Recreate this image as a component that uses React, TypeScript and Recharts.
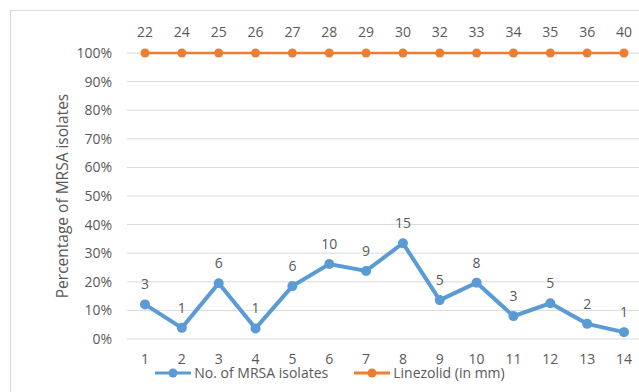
import { LineChart, Line, XAxis, YAxis, CartesianGrid, LabelList, Legend } from "recharts";

// bottom axis: isolate group number; top axis: linezolid zone size in mm
const categories = ["1", "2", "3", "4", "5", "6", "7", "8", "9", "10", "11", "12", "13", "14"];
const zoneMm = ["22", "24", "25", "26", "27", "28", "29", "30", "32", "33", "34", "35", "36", "40"];
const isolateCounts = [3, 1, 6, 1, 6, 10, 9, 15, 5, 8, 3, 5, 2, 1];
const isolatePct = [0.121, 0.039, 0.195, 0.037, 0.185, 0.262, 0.238, 0.335, 0.136, 0.197, 0.08, 0.125, 0.053, 0.024];
const linezolidPct = [1, 1, 1, 1, 1, 1, 1, 1, 1, 1, 1, 1, 1, 1];
const yTicks = [0, 0.1, 0.2, 0.3, 0.4, 0.5, 0.6, 0.7, 0.8, 0.9, 1];

const BLUE = "#5b9bd5";
const ORANGE = "#ed7d31";
const TEXT = "#595959";
const FONT = "'Open Sans', sans-serif";
const FS = 14;

const data = categories.map((c, i) => ({
  cat: c,
  mm: zoneMm[i],
  count: isolateCounts[i],
  pct: isolatePct[i],
  linezolid: linezolidPct[i],
}));

function LegendItem({ color, text, gap = 0 }: { color: string; text: string; gap?: number }) {
  return (
    <span style={{ display: "inline-flex", alignItems: "center", marginRight: gap }}>
      <svg width={36} height={10} style={{ marginRight: 3 }}>
        <line x1={0} y1={5} x2={36} y2={5} stroke={color} strokeWidth={3} />
        <circle cx={18} cy={5} r={4.5} fill={color} />
      </svg>
      <span>{text}</span>
    </span>
  );
}

export default function App() {
  return (
    <div
      style={{
        position: "absolute",
        left: 0,
        top: 0,
        width: 639,
        height: 392,
        overflow: "hidden",
        background: "#fff",
        fontFamily: FONT,
      }}
    >
      {/* chart frame, runs off the right and bottom edges like the source */}
      <div
        style={{
          position: "absolute",
          left: 10,
          top: 10,
          width: 700,
          height: 500,
          border: "1px solid #d9d9d9",
        }}
      />
      <div style={{ position: "absolute", left: 0, top: 0 }}>
        <LineChart width={650} height={392} data={data} margin={{ top: 23, right: 8, left: 12, bottom: 9 }}>
          <CartesianGrid vertical={false} stroke="#d9d9d9" strokeWidth={1} />
          <XAxis
            xAxisId="bottom"
            dataKey="cat"
            axisLine={false}
            tickLine={false}
            tickSize={8}
            tickMargin={7}
            height={30}
            padding={{ left: 18, right: 18 }}
            tick={{ fontSize: FS, fill: TEXT, fontFamily: FONT }}
          />
          <XAxis
            xAxisId="top"
            dataKey="mm"
            orientation="top"
            axisLine={false}
            tickLine={false}
            tickSize={8}
            tickMargin={8}
            height={30}
            padding={{ left: 18, right: 18 }}
            tick={{ fontSize: FS, fill: TEXT, fontFamily: FONT }}
          />
          <YAxis
            domain={[0, 1]}
            ticks={yTicks}
            width={115}
            axisLine={false}
            tickLine={false}
            tickSize={8}
            tickMargin={7}
            tickFormatter={(v: number) => `${Math.round(v * 100)}%`}
            tick={{ fontSize: FS, fill: TEXT, fontFamily: FONT }}
            label={{
              value: "Percentage of MRSA isolates",
              angle: -90,
              position: "insideLeft",
              offset: 50,
              style: { textAnchor: "middle", fontSize: 15.5, fill: TEXT, fontFamily: FONT },
            }}
          />
          <Legend
            verticalAlign="bottom"
            wrapperStyle={{ left: 0, width: 660, bottom: 12 }}
            content={() => (
              <div style={{ textAlign: "center", fontSize: FS, color: TEXT, fontFamily: FONT, lineHeight: "14px" }}>
                <LegendItem color={BLUE} text="No. of MRSA isolates" gap={26} />
                <LegendItem color={ORANGE} text="Linezolid (in mm)" />
              </div>
            )}
          />
          <Line
            xAxisId="bottom"
            dataKey="pct"
            name="No. of MRSA isolates"
            stroke={BLUE}
            strokeWidth={4}
            dot={{ r: 5, fill: BLUE, stroke: BLUE, strokeWidth: 0 }}
            isAnimationActive={false}
          >
            <LabelList dataKey="count" position="top" offset={15} fill={TEXT} fontSize={FS} fontFamily={FONT} />
          </Line>
          <Line
            xAxisId="top"
            dataKey="linezolid"
            name="Linezolid (in mm)"
            stroke={ORANGE}
            strokeWidth={2.7}
            dot={{ r: 4.5, fill: ORANGE, stroke: ORANGE, strokeWidth: 0 }}
            isAnimationActive={false}
          />
        </LineChart>
      </div>
    </div>
  );
}
